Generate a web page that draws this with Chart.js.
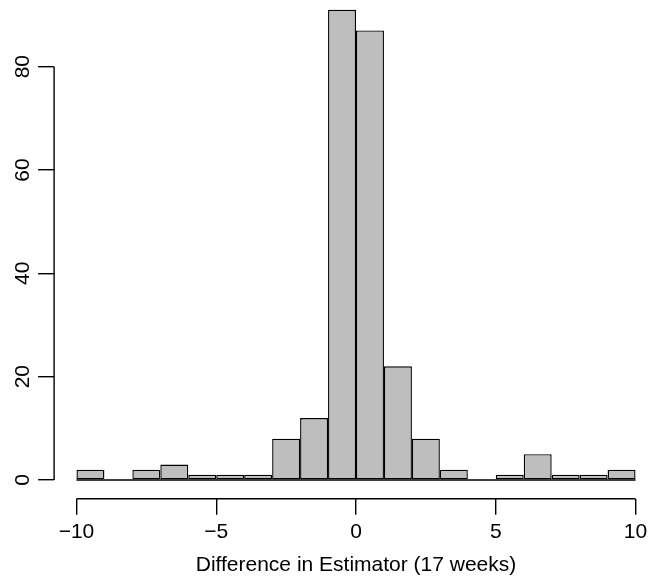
<!DOCTYPE html>
<html><head><meta charset="utf-8">
<script src="https://cdn.jsdelivr.net/npm/chart.js@4/dist/chart.umd.min.js"></script>
<style>
html,body{margin:0;padding:0;background:#fff;overflow:hidden;width:648px;height:581px;}
#wrap{position:absolute;left:0;top:-30px;width:680px;height:611px;}
</style></head><body>
<div id="wrap"><canvas id="c"></canvas></div>
<script>
// Histogram data (bins of width 1 from -10 to 10)
const binEdges = [-10,-9,-8,-7,-6,-5,-4,-3,-2,-1,0,1,2,3,4,5,6,7,8,9,10];
const counts   = [2,0,2,3,1,1,1,8,12,91,87,22,8,2,0,1,5,1,1,2];
const xTickValues = [-10,-5,0,5,10];
const xTickLabels = ['\u221210','\u22125','0','5','10'];
const yTickValues = [0,20,40,60,80];
const yTickLabels = ['0','20','40','60','80'];
const xTitle = 'Difference in Estimator (17 weeks)';

const barData = counts.map((c,i)=>({x:(binEdges[i]+binEdges[i+1])/2, y:c}));
const FONT = "'Liberation Sans', Arial, Helvetica, sans-serif";
Chart.defaults.font.family = FONT;
Chart.defaults.color = '#000';

const rAxes = {
  id:'rAxes',
  afterDraw(chart){
    const {ctx, chartArea, scales:{x,y}} = chart;
    ctx.save();
    ctx.strokeStyle = '#000';
    // baseline under bars (zero-count bins)
    ctx.lineWidth = 1.4;
    ctx.beginPath();
    ctx.moveTo(x.getPixelForValue(binEdges[0]), y.getPixelForValue(0));
    ctx.lineTo(x.getPixelForValue(binEdges[binEdges.length-1]), y.getPixelForValue(0));
    ctx.stroke();
    // x axis line
    ctx.lineWidth = 1.4;
    ctx.beginPath();
    ctx.moveTo(x.getPixelForValue(xTickValues[0]), chartArea.bottom);
    ctx.lineTo(x.getPixelForValue(xTickValues[xTickValues.length-1]), chartArea.bottom);
    ctx.stroke();
    // y axis line
    ctx.beginPath();
    ctx.moveTo(chartArea.left, y.getPixelForValue(yTickValues[0]));
    ctx.lineTo(chartArea.left, y.getPixelForValue(yTickValues[yTickValues.length-1]));
    ctx.stroke();
    ctx.restore();
  }
};

new Chart(document.getElementById('c'), {
  type:'bar',
  data:{datasets:[{
    data: barData,
    backgroundColor:'#BEBEBE',
    borderColor:'#000',
    borderWidth:1.4,
    borderSkipped:false,
    barPercentage:1,
    categoryPercentage:1,
    inflateAmount:0
  }]},
  options:{
    responsive:true,
    maintainAspectRatio:false,
    animation:false,
    layout:{padding:{left:0,right:22.1,top:21,bottom:0}},
    plugins:{legend:{display:false},tooltip:{enabled:false}},
    scales:{
      x:{
        type:'linear',
        offset:false,
        min:-10.8, max:10.8,
        afterBuildTicks(s){ s.ticks = xTickValues.map(v=>({value:v})); },
        afterFit(s){ s.height = 82.2; },
        ticks:{
          autoSkip:false, maxRotation:0, minRotation:0,
          padding:5,
          font:{size:21},
          color:'#000',
          callback:(v,i)=>xTickLabels[i]
        },
        grid:{display:true, offset:false, drawOnChartArea:false, drawTicks:true, tickLength:16, color:'#000', lineWidth:1.4},
        border:{display:false},
        title:{display:true, text:xTitle, font:{size:21}, color:'#000', padding:{top:0,bottom:3}}
      },
      y:{
        type:'linear',
        min:-3.64, max:94.64,
        afterBuildTicks(s){ s.ticks = yTickValues.map(v=>({value:v})); },
        afterFit(s){ s.width = 54.1; },
        ticks:{
          autoSkip:false, minRotation:90, maxRotation:90,
          crossAlign:'center',
          padding:3,
          font:{size:21},
          color:'#000',
          callback:(v,i)=>yTickLabels[i]
        },
        grid:{display:true, offset:false, drawOnChartArea:false, drawTicks:true, tickLength:16, color:'#000', lineWidth:1.4},
        border:{display:false}
      }
    }
  },
  plugins:[rAxes]
});
</script>
</body></html>
